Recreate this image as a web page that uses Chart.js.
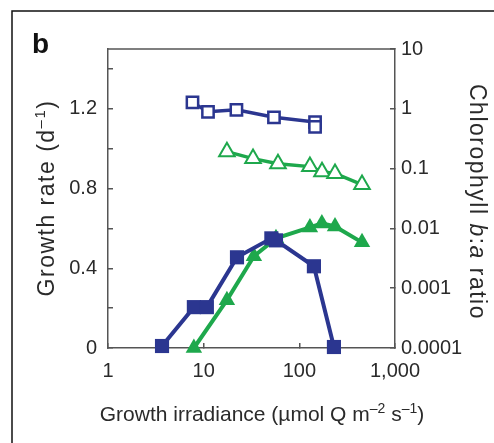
<!DOCTYPE html>
<html><head><meta charset="utf-8">
<script src="https://cdn.jsdelivr.net/npm/chart.js@4.4.1/dist/chart.umd.min.js"></script>
<style>html,body{margin:0;padding:0;background:#fff;overflow:hidden}</style>
</head><body>
<canvas id="c" width="494" height="443"></canvas>
<script>
// ---- data ----
const xTicks = [1, 10, 100, 1000];
const xTickLabels = ['1', '10', '100', '1,000'];
const leftTicks = [0, 0.2, 0.4, 0.6, 0.8, 1.0, 1.2, 1.4];
const leftTickLabels = ['0', '', '0.4', '', '0.8', '', '1.2', ''];
const rightTicks = [0.0001, 0.001, 0.01, 0.1, 1, 10];
const rightTickLabels = ['0.0001', '0.001', '0.01', '0.1', '1', '10'];

// growth rate (left axis), filled markers
const blueGrowthX = [3.67, 7.9, 10.8, 22.3, 51, 57, 142, 230];
const blueGrowthY = [0.01, 0.205, 0.205, 0.455, 0.55, 0.54, 0.41, 0.005];
const greenGrowthX = [7.9, 17.5, 33.5, 57, 129, 172, 236, 452];
const greenGrowthY = [0.0, 0.24, 0.46, 0.55, 0.605, 0.625, 0.61, 0.53];

// chlorophyll b:a ratio (right axis), open markers
const blueRatioX = [7.64, 11.1, 22.0, 54.3, 146, 146];
const blueRatioY = [1.28, 0.89, 0.96, 0.72, 0.6, 0.5];
const greenRatioX = [17.5, 32.8, 59.8, 129, 172.6, 236, 452];
const greenRatioY = [0.192, 0.147, 0.121, 0.108, 0.089, 0.083, 0.054];

const BLUE = '#2b3690';
const GREEN = '#1ea84c';
const AXIS = '#555555';
const FAM = '"Liberation Sans", Arial, sans-serif';
const TICKFONT = {family: FAM, size: 20};

const pts = (xs, ys) => xs.map((x, i) => ({x, y: ys[i]}));

function drawSegs(g, segs, cx, cy, rot, base, spacing) {
  g.save();
  g.translate(cx, cy);
  g.rotate(rot);
  g.textBaseline = 'alphabetic';
  g.fillStyle = '#2a2a2a';
  if ('letterSpacing' in g) g.letterSpacing = (spacing || 0) + 'px';
  let total = 0;
  for (const s of segs) { g.font = s.font; s.w = g.measureText(s.t).width; total += s.w; }
  let x = -total / 2;
  for (const s of segs) { g.font = s.font; g.fillText(s.t, x, (s.dy || 0) + base); x += s.w; }
  g.restore();
}

const deco = {
  id: 'deco',
  beforeDraw(c) {
    const g = c.ctx;
    g.save();
    g.fillStyle = '#fff';
    g.fillRect(0, 0, c.width, c.height);
    g.strokeStyle = '#111';
    g.lineWidth = 1.5;
    g.beginPath();
    g.moveTo(12, 443); g.lineTo(12, 11); g.lineTo(494, 11);
    g.stroke();
    g.restore();
  },
  beforeDatasetsDraw(c) {
    const g = c.ctx, a = c.chartArea;
    g.save();
    g.strokeStyle = AXIS; g.lineWidth = 1.5;
    g.beginPath(); g.moveTo(a.left, a.top); g.lineTo(a.right, a.top); g.stroke();
    g.restore();
  },
  afterDraw(c) {
    const g = c.ctx;
    g.save();
    g.fillStyle = '#111';
    g.font = 'bold 28px ' + FAM;
    g.textBaseline = 'alphabetic';
    g.fillText('b', 32, 53);
    g.restore();
    const main = '21px ' + FAM, sup = '14px ' + FAM;
    const vmain = '23px ' + FAM, vsup = '15px ' + FAM, vit = 'italic 23px ' + FAM;
    drawSegs(g, [{t: 'Growth rate (d', font: vmain}, {t: '\u20131', font: vsup, dy: -9}, {t: ')', font: vmain}], 46, 198, -Math.PI / 2, 8, 1.5);
    drawSegs(g, [{t: 'Growth irradiance (\u00b5mol Q m', font: main}, {t: '\u20132', font: sup, dy: -8}, {t: ' s', font: main}, {t: '\u20131', font: sup, dy: -8}, {t: ')', font: main}], 262, 413, 0, 7.5, 0);
    drawSegs(g, [{t: 'Chlorophyll ', font: vmain}, {t: 'b', font: vit}, {t: ':', font: vmain}, {t: 'a', font: vit}, {t: ' ratio', font: vmain}], 478, 202, Math.PI / 2, 8, 1.5);
  }
};

new Chart(document.getElementById('c'), {
  type: 'scatter',
  data: {
    datasets: [
      {data: pts(blueGrowthX, blueGrowthY), yAxisID: 'y', showLine: true, borderColor: BLUE, backgroundColor: BLUE,
       borderWidth: 4, pointStyle: 'rect', pointRadius: 10, pointBorderWidth: 0, clip: false},
      {data: pts(greenGrowthX, greenGrowthY), yAxisID: 'y', showLine: true, borderColor: GREEN, backgroundColor: GREEN,
       borderWidth: 4, pointStyle: 'triangle', pointRadius: 9.5, pointBorderWidth: 0, clip: false},
      {data: pts(blueRatioX, blueRatioY), yAxisID: 'y2', showLine: true, borderColor: BLUE, backgroundColor: '#fff',
       borderWidth: 3.5, pointStyle: 'rect', pointRadius: 8, pointBorderWidth: 2.5, pointBorderColor: BLUE, clip: false},
      {data: pts(greenRatioX, greenRatioY), yAxisID: 'y2', showLine: true, borderColor: GREEN, backgroundColor: '#fff',
       borderWidth: 3.5, pointStyle: 'triangle', pointRadius: 9, pointBorderWidth: 2, pointBorderColor: GREEN, clip: false}
    ]
  },
  options: {
    responsive: false,
    animation: false,
    devicePixelRatio: 1,
    layout: {padding: {top: 49, left: 0, right: 0, bottom: 0}},
    plugins: {legend: {display: false}, tooltip: {enabled: false}},
    scales: {
      x: {
        type: 'logarithmic', position: 'bottom', min: 1, max: 1000,
        afterBuildTicks: s => { s.ticks = xTicks.map(v => ({value: v})); },
        afterFit: s => { s.height = 95; },
        ticks: {callback: (v, i) => xTickLabels[i], font: TICKFONT, color: '#2a2a2a', padding: 16, maxRotation: 0, autoSkip: false},
        grid: {drawOnChartArea: false, drawTicks: true, tickLength: -5, color: AXIS, lineWidth: 1.5},
        border: {display: true, color: AXIS, width: 1.5}
      },
      y: {
        type: 'linear', position: 'left', min: 0, max: 1.5,
        afterBuildTicks: s => { s.ticks = leftTicks.map(v => ({value: v})); },
        afterFit: s => { s.width = 108; },
        ticks: {callback: (v, i) => leftTickLabels[i], font: TICKFONT, color: '#2a2a2a', padding: 16, autoSkip: false},
        grid: {drawOnChartArea: false, drawTicks: true, tickLength: -5, color: AXIS, lineWidth: 1.5},
        border: {display: true, color: AXIS, width: 1.5}
      },
      y2: {
        type: 'logarithmic', position: 'right', min: 0.0001, max: 10,
        afterBuildTicks: s => { s.ticks = rightTicks.map(v => ({value: v})); },
        afterFit: s => { s.width = 99; },
        ticks: {callback: (v, i) => rightTickLabels[i], font: TICKFONT, color: '#2a2a2a', padding: 11, autoSkip: false},
        grid: {drawOnChartArea: false, drawTicks: true, tickLength: -5, color: AXIS, lineWidth: 1.5},
        border: {display: true, color: AXIS, width: 1.5}
      }
    }
  },
  plugins: [deco]
});
</script>
</body></html>
